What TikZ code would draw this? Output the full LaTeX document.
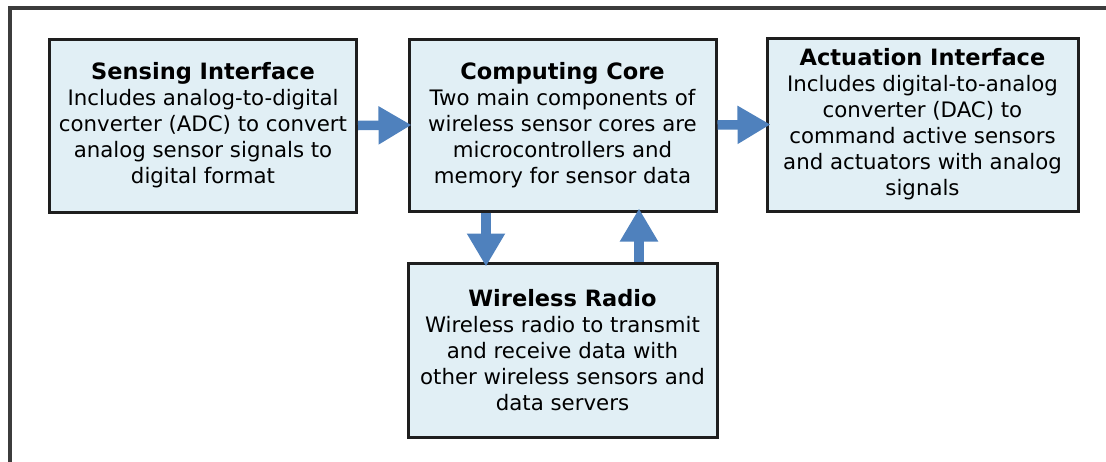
\documentclass[tikz,border=0pt]{standalone}
\usepackage{fontspec}
\setmainfont{DejaVu Sans}
\usetikzlibrary{arrows.meta}
\definecolor{boxfill}{RGB}{225,239,245}
\definecolor{boxline}{RGB}{30,30,30}
\definecolor{flow}{RGB}{79,129,189}
\definecolor{frame}{RGB}{60,60,60}
\newcommand{\ttl}[1]{{\fontsize{22.5}{26}\selectfont\bfseries #1}}
\tikzset{
  block/.style={draw=boxline, line width=3pt, fill=boxfill, inner sep=0pt,
    minimum width=#1, align=center, font=\fontsize{21.3}{26}\selectfont},
  block/.default=307pt,
  flowarrow/.style={draw=flow, line width=9.5pt,
    -{Triangle[width=36pt,length=33pt]}}
}
\begin{document}
\begin{tikzpicture}[x=1pt,y=-1pt]
\useasboundingbox (0,0) rectangle (1106,461);
\clip (0,0) rectangle (1106,461);
% outer frame, open to the right and bottom
\draw[frame, line width=4pt] (10,475) -- (10,8) -- (1120,8);

\node[block, minimum height=173pt] (sense) at (203,125.5)
  {\ttl{Sensing Interface}\\Includes analog-to-digital\\converter (ADC) to convert\\analog sensor signals to\\digital format};
\node[block, minimum height=172pt] (core) at (562.5,125)
  {\ttl{Computing Core}\\Two main components of\\wireless sensor cores are\\microcontrollers and\\memory for sensor data};
\node[block=311pt, minimum height=173pt] (act) at (922.5,124.5)
  {\ttl{Actuation Interface}\\Includes digital-to-analog\\converter (DAC) to\\command active sensors\\and actuators with analog\\signals};
\node[block=309pt, minimum height=174pt] (radio) at (562.5,350)
  {\ttl{Wireless Radio}\\Wireless radio to transmit\\and receive data with\\other wireless sensors and\\data servers};

\draw[flowarrow] (sense.east) -- ([xshift=4pt]core.west);
\draw[flowarrow] (core.east) -- ([xshift=5pt]act.west);
\draw[flowarrow] ([xshift=-76.5pt]core.south) -- ([xshift=-76.5pt,yshift=-5pt]radio.north);
\draw[flowarrow] ([xshift=76.5pt]radio.north) -- ([xshift=76.5pt,yshift=4pt]core.south);
\end{tikzpicture}
\end{document}
